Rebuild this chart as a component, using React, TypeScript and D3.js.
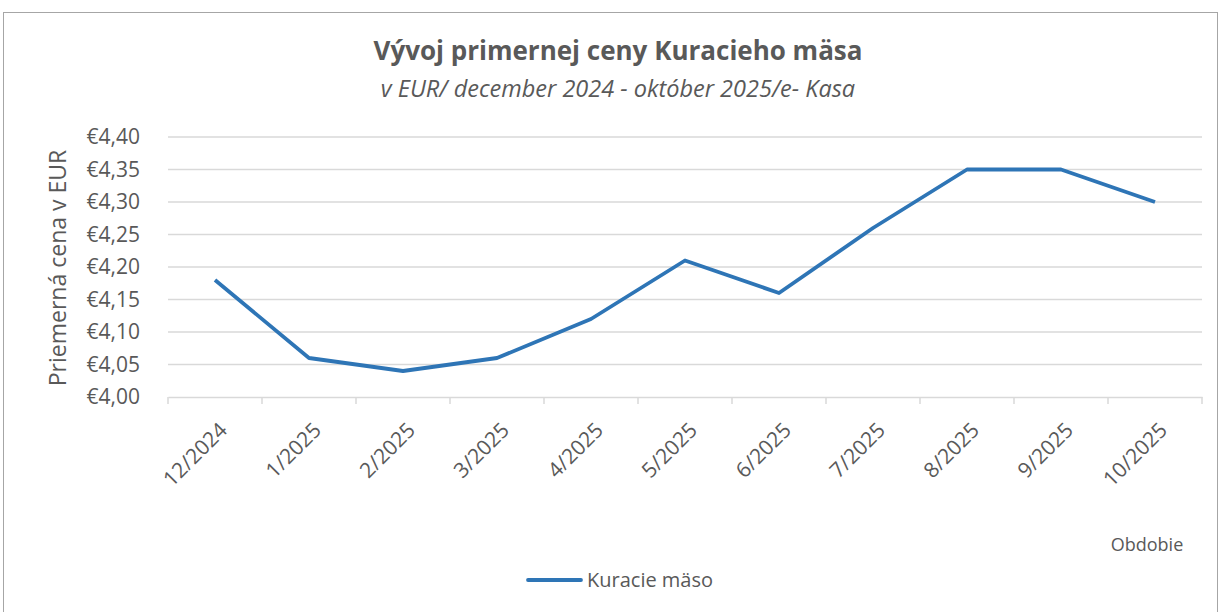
import React, { useEffect, useRef } from "react";
import * as d3 from "d3";

const months = ["12/2024", "1/2025", "2/2025", "3/2025", "4/2025", "5/2025", "6/2025", "7/2025", "8/2025", "9/2025", "10/2025"];
const prices = [4.18, 4.06, 4.04, 4.06, 4.12, 4.21, 4.16, 4.26, 4.35, 4.35, 4.3];
const yTicks = [4.0, 4.05, 4.1, 4.15, 4.2, 4.25, 4.3, 4.35, 4.4];
const seriesName = "Kuracie mäso";

const App = ({ width = 1221, height = 612 }) => {
  const chart = useRef<SVGSVGElement>(null);

  useEffect(() => {
    const svg = d3.select(chart.current);
    svg.selectAll("*").remove();
    const font = "'Open Sans', 'Noto Sans', sans-serif";
    const textColor = "#595959";

    // frame
    svg.append("rect")
      .attr("x", 3.5).attr("y", 12.5)
      .attr("width", width - 7).attr("height", height)
      .attr("fill", "white").attr("stroke", "#a6a6a6");

    const left = 168, right = 1202, top = 137, bottom = 397;

    const x = d3.scaleBand().domain(months).range([left, right]);
    const y = d3.scaleLinear().domain([4.0, 4.4]).range([bottom, top]);

    // grid
    svg.append("g")
      .selectAll("line")
      .data(yTicks.slice(1))
      .enter()
      .append("line")
      .attr("x1", left).attr("x2", right)
      .attr("y1", (d) => y(d)).attr("y2", (d) => y(d))
      .attr("stroke", "#d9d9d9").attr("stroke-width", 1.3);

    // y labels
    svg.append("g")
      .selectAll("text")
      .data(yTicks)
      .enter()
      .append("text")
      .attr("x", 140)
      .attr("y", (d) => y(d))
      .attr("dy", "0.35em")
      .attr("text-anchor", "end")
      .attr("font-family", font).attr("font-size", 21).attr("fill", textColor)
      .text((d) => "€" + d.toFixed(2).replace(".", ","));

    // x axis
    const xAxis = svg.append("g").attr("transform", `translate(0, ${bottom})`)
      .call(d3.axisBottom(x).tickSize(0).tickFormat(() => ""));
    xAxis.select(".domain").attr("stroke", "#d9d9d9").attr("stroke-width", 1.5);
    const edges = months.map((m) => x(m)!).concat([right]);
    xAxis.selectAll(".edge")
      .data(edges)
      .enter()
      .append("line")
      .attr("x1", (d) => d).attr("x2", (d) => d)
      .attr("y1", 0).attr("y2", 7)
      .attr("stroke", "#d9d9d9").attr("stroke-width", 1.5);

    svg.append("g")
      .selectAll("text")
      .data(months)
      .enter()
      .append("text")
      .attr("transform", (d) => `translate(${x(d)! + x.bandwidth() / 2 + 3}, ${bottom + 24}) rotate(-45)`)
      .attr("text-anchor", "end")
      .attr("dy", "0.7em")
      .attr("font-family", font).attr("font-size", 21).attr("fill", textColor)
      .text((d) => d);

    // line
    const line = d3.line<number>()
      .x((d, i) => x(months[i])! + x.bandwidth() / 2)
      .y((d) => y(d));
    svg.append("path")
      .datum(prices)
      .attr("d", line)
      .attr("fill", "none")
      .attr("stroke", "#2e75b6")
      .attr("stroke-width", 3.8)
      .attr("stroke-linejoin", "round");

    // titles
    svg.append("text")
      .attr("x", 618).attr("y", 60)
      .attr("text-anchor", "middle")
      .attr("font-family", font).attr("font-size", 26).attr("font-weight", "bold").attr("fill", textColor)
      .text("Vývoj primernej ceny Kuracieho mäsa");
    svg.append("text")
      .attr("x", 618).attr("y", 97)
      .attr("text-anchor", "middle")
      .attr("font-family", font).attr("font-size", 23.5).attr("font-style", "italic").attr("fill", textColor)
      .text("v EUR/ december 2024 - október 2025/e- Kasa");

    svg.append("text")
      .attr("transform", `translate(66, 268) rotate(-90)`)
      .attr("text-anchor", "middle")
      .attr("font-family", font).attr("font-size", 23).attr("fill", textColor)
      .text("Priemerná cena v EUR");

    svg.append("text")
      .attr("x", 1147).attr("y", 551)
      .attr("text-anchor", "middle")
      .attr("font-family", font).attr("font-size", 18).attr("fill", textColor)
      .text("Obdobie");

    // legend
    svg.append("line")
      .attr("x1", 528).attr("x2", 581).attr("y1", 580).attr("y2", 580)
      .attr("stroke", "#2e75b6").attr("stroke-width", 3.8).attr("stroke-linecap", "round");
    svg.append("text")
      .attr("x", 587).attr("y", 580).attr("dy", "0.35em")
      .attr("font-family", font).attr("font-size", 20).attr("fill", textColor)
      .text(seriesName);
  });

  return (
    <div style={{ position: "absolute", left: 0, top: 0 }}>
      <svg ref={chart} width={width} height={height}></svg>
    </div>
  );
};

export default App;
